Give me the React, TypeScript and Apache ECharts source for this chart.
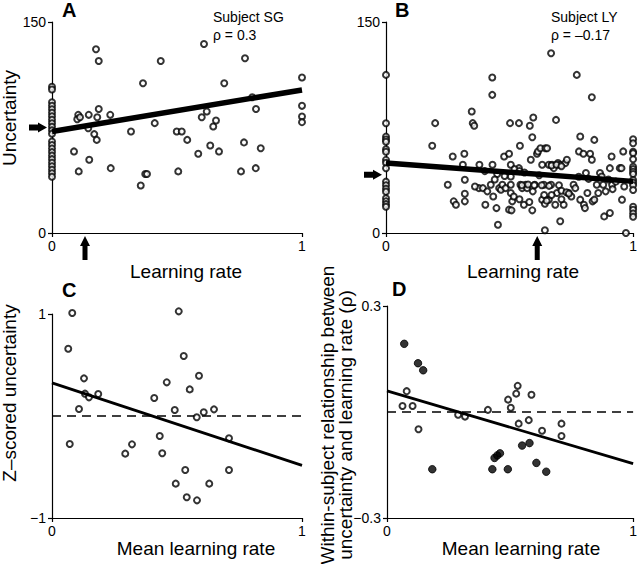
import React, { useEffect, useRef } from "react";
import * as echarts from "echarts";

const FONT = "'Liberation Sans', Arial, Helvetica, sans-serif";

// Panel A: Subject SG (learning rate, uncertainty)
const pointsA: number[][] = [
  [0, 104], [0, 102], [0, 93], [0, 90.5], [0, 88], [0, 85.5], [0, 83], [0, 80.5], [0, 78], [0, 75.5],
  [0, 73], [0, 70.5], [0, 65], [0, 62.5], [0, 60], [0, 57.5], [0, 55], [0, 52.5], [0, 50], [0, 47.5],
  [0, 45], [0, 42.5], [0, 40],
  [0.176, 130.6], [0.187, 122.3], [0.105, 84.0], [0.101, 80.9], [0.112, 82.3], [0.147, 84.0],
  [0.187, 88.2], [0.181, 82.3], [0.145, 74.5], [0.169, 70.3], [0.179, 66.2], [0.088, 58.0],
  [0.149, 52.1], [0.107, 43.8], [0.233, 84.0], [0.235, 46.1], [0.316, 72.2], [0.364, 106.5],
  [0.355, 33.8], [0.373, 41.9], [0.38, 41.9], [0.411, 78.1], [0.435, 122.3], [0.499, 72.2],
  [0.519, 72.2], [0.541, 66.2], [0.505, 43.8], [0.585, 56.3], [0.608, 134.4], [0.599, 82.3],
  [0.619, 86.4], [0.633, 62.2], [0.645, 75.7], [0.656, 80.0], [0.668, 58.0], [0.689, 106.5],
  [0.772, 124.2], [0.768, 64.4], [0.756, 43.8], [0.801, 96.5], [0.816, 88.2], [0.835, 60.3],
  [0.815, 46.1], [1, 110.5], [1, 90.4], [1, 82.8], [1, 78.8],
];
const fitA: number[][] = [[0, 72.2], [1, 101.7]];
const arrowA = { uncertainty: 75, rate: 0.132 };

// Panel B: Subject LY
const pointsB: number[][] = [
  [0, 112.4], [0, 78], [0, 68.5], [0, 66.5], [0, 64.9], [0, 59.5], [0, 57.8], [0, 52], [0, 50], [0, 46],
  [0, 36.5], [0, 34], [0, 31.5], [0, 29.4], [0, 24.7], [0, 22.5], [0, 20.5], [0, 18.7],
  [0.187, 62.0], [0.199, 78.1], [0.25, 34.3], [0.27, 54.4], [0.274, 22.5], [0.283, 20.1], [0.317, 56.3],
  [0.311, 48.5], [0.319, 37.9], [0.319, 27.9], [0.319, 22.5], [0.347, 86.4], [0.351, 78.1], [0.357, 76.2],
  [0.378, 48.5], [0.376, 31.9], [0.392, 31.9], [0.402, 20.1], [0.41, 29.6], [0.424, 34.3], [0.43, 110.5],
  [0.43, 98.2], [0.431, 48.5], [0.434, 26.0], [0.447, 17.7], [0.453, 5.9], [0.458, 31.9], [0.465, 30.8],
  [0.471, 34.3], [0.478, 54.4], [0.484, 31.9], [0.498, 56.3], [0.502, 78.1], [0.505, 48.5], [0.505, 40.2],
  [0.505, 34.3], [0.505, 28.4], [0.511, 22.5], [0.517, 26.0], [0.498, 16.6], [0.508, 16.1], [0.538, 78.1],
  [0.542, 62.0], [0.538, 46.1], [0.544, 34.3], [0.551, 31.9], [0.558, 20.1], [0.565, 34.3], [0.571, 31.9],
  [0.582, 76.2], [0.592, 68.1], [0.596, 82.1], [0.586, 52.1], [0.592, 16.1], [0.594, 29.6], [0.602, 34.3],
  [0.611, 56.3], [0.615, 58.0], [0.625, 60.3], [0.632, 48.5], [0.632, 23.7], [0.639, 34.3], [0.643, 20.8],
  [0.645, 60.3], [0.652, 60.3], [0.659, 48.5], [0.659, 23.7], [0.668, 127.8], [0.668, 34.3], [0.672, 48.5],
  [0.679, 46.1], [0.688, 80.4], [0.685, 20.1], [0.692, 28.4], [0.696, 49.7], [0.704, 48.5], [0.705, 8.3],
  [0.719, 20.1], [0.726, 49.7], [0.732, 52.1], [0.739, 28.4], [0.75, 26.0], [0.759, 34.3], [0.766, 31.9],
  [0.772, 112.4], [0.786, 68.6], [0.781, 58.0], [0.786, 23.7], [0.799, 56.3], [0.801, 20.1], [0.805, 17.7],
  [0.809, 42.6], [0.815, 28.4], [0.826, 56.3], [0.833, 96.5], [0.833, 52.1], [0.836, 22.5], [0.843, 66.2],
  [0.843, 23.7], [0.853, 34.3], [0.859, 28.4], [0.866, 42.6], [0.873, 40.2], [0.879, 34.3], [0.883, 11.8],
  [0.889, 29.6], [0.906, 14.2], [0.913, 54.4], [0.915, 34.3], [0.917, 31.2], [0.906, 46.1], [0.946, 46.1],
  [0.953, 46.1], [0.955, 23.7], [0.96, 58.0], [0.964, 33.1], [0.971, 0], [0.643, 1.9],
  [0.52, 45.4], [0.54, 44.0], [0.56, 43.0], [0.55, 34.0], [0.575, 34.5], [0.6, 34.0], [0.63, 34.0],
  [0.66, 33.5], [0.7, 34.0], [0.54, 24.0], [0.58, 22.0], [0.64, 27.0], [0.67, 27.0], [0.65, 23.0],
  [0.71, 30.0], [0.73, 29.0], [0.74, 28.0], [0.71, 24.0], [0.67, 48.0], [0.69, 48.5], [0.71, 47.5],
  [0.45, 42.0], [0.48, 40.5], [0.62, 41.0], [0.78, 40.0], [0.82, 38.5], [0.9, 38.0], [0.93, 36.5],
  [0.36, 33.0], [0.4, 44.0], [0.44, 38.0],
  [1, 66.6], [1, 63.8], [1, 57.8], [1, 56.7], [1, 52.4], [1, 47.1], [1, 45.4], [1, 43.6], [1, 41.9],
  [1, 37.7], [1, 35.8], [1, 33.9], [1, 30.6], [1, 18.7], [1, 16.5], [1, 13.9], [1, 11.6],
];
const fitB: number[][] = [[0, 49.7], [1, 36.7]];
const arrowB = { uncertainty: 41.4, rate: 0.612 };

// Panel C: mean learning rate vs z-scored uncertainty
const pointsC: number[][] = [
  [0.065, 0.66], [0.081, 1.01], [0.071, -0.275], [0.108, 0.069], [0.128, 0.369], [0.132, 0.219],
  [0.148, 0.183], [0.185, 0.216], [0.293, -0.369], [0.32, -0.278], [0.409, 0.176], [0.431, -0.196],
  [0.441, -0.366], [0.459, 0.33], [0.491, 0.059], [0.495, -0.663], [0.507, 1.026], [0.527, 0.588],
  [0.533, -0.529], [0.539, -0.797], [0.551, 0.261], [0.579, -0.013], [0.58, -0.827], [0.588, 0.395],
  [0.607, 0.036], [0.629, -0.663], [0.648, 0.065], [0.708, -0.219], [0.708, -0.529],
];
const fitC: number[][] = [[0, 0.324], [1, -0.484]];
const zeroLine: number[][] = [[0, 0], [1, 0]];

// Panel D: mean learning rate vs within-subject rho
const pointsDFilled: number[][] = [
  [0.07, 0.193], [0.126, 0.138], [0.147, 0.118], [0.184, -0.162], [0.428, -0.162], [0.437, -0.13],
  [0.448, -0.123], [0.459, -0.117], [0.491, -0.162], [0.549, -0.095], [0.579, -0.088], [0.607, -0.144],
  [0.647, -0.169],
];
const pointsDOpen: number[][] = [
  [0.063, 0.017], [0.08, 0.059], [0.104, 0.017], [0.128, -0.049], [0.289, -0.008], [0.317, -0.013],
  [0.41, 0.006], [0.492, 0.035], [0.503, 0.012], [0.525, 0.052], [0.531, 0.074], [0.535, -0.033],
  [0.576, -0.023], [0.587, 0.049], [0.63, -0.053], [0.709, -0.033], [0.709, -0.068],
];
const fitD: number[][] = [[0, 0.06], [1, -0.146]];

const ticksXY = { x: [0, 1], yAB: [0, 150], yC: [-1, 1], yD: [-0.3, 0.3] };

const fmt = (v: number) => (v < 0 ? "\u2212" + String(Math.abs(v)) : String(v));

function axisBase(gridIndex: number, min: number, max: number, ticks: number[]) {
  return {
    gridIndex,
    type: "value",
    min,
    max,
    axisLine: { show: true, onZero: false, lineStyle: { color: "#000", width: 1.2 } },
    axisTick: { show: true, length: 4, customValues: ticks, lineStyle: { color: "#000", width: 1.2 } },
    axisLabel: {
      show: true,
      customValues: ticks,
      color: "#000",
      fontSize: 14,
      fontFamily: FONT,
      margin: 6,
      formatter: fmt,
    },
    splitLine: { show: false },
  };
}

const openStyle = { color: "#fff", borderColor: "#000", borderWidth: 2 };

function scatter(idx: number, data: number[][], filled = false) {
  return {
    type: "scatter",
    xAxisIndex: idx,
    yAxisIndex: idx,
    data,
    symbol: "circle",
    symbolSize: filled ? 7.5 : 6,
    clip: false,
    itemStyle: filled ? { color: "#000", borderColor: "#000", borderWidth: 1 } : openStyle,
    z: 2,
  };
}

function line(idx: number, data: number[][], width: number, dashed = false) {
  return {
    type: "line",
    xAxisIndex: idx,
    yAxisIndex: idx,
    data,
    showSymbol: false,
    symbol: "none",
    lineStyle: { color: "#000", width, type: dashed ? [9, 6] : "solid" },
    z: dashed ? 1 : 3,
    silent: true,
  };
}

export default function App() {
  const ref = useRef<HTMLDivElement>(null);
  useEffect(() => {
    if (!ref.current) return;
    const chart = echarts.init(ref.current, undefined, { renderer: "svg" });
    chart.setOption({
      animation: false,
      backgroundColor: "#fff",
      grid: [
        { left: 52, top: 22, width: 250, height: 211 },
        { left: 386, top: 22, width: 249, height: 211 },
        { left: 52, top: 314, width: 250, height: 204 },
        { left: 387, top: 306, width: 249, height: 212 },
      ],
      xAxis: [
        axisBase(0, 0, 1, ticksXY.x),
        axisBase(1, 0, 1, ticksXY.x),
        axisBase(2, 0, 1, ticksXY.x),
        axisBase(3, 0, 1, ticksXY.x),
      ],
      yAxis: [
        axisBase(0, 0, 150, ticksXY.yAB),
        axisBase(1, 0, 150, ticksXY.yAB),
        axisBase(2, -1, 1, ticksXY.yC),
        axisBase(3, -0.3, 0.3, ticksXY.yD),
      ],
      series: [
        scatter(0, pointsA),
        line(0, fitA, 5.5),
        scatter(1, pointsB),
        line(1, fitB, 5.5),
        line(2, zeroLine, 1.5, true),
        scatter(2, pointsC),
        line(2, fitC, 2.8),
        line(3, zeroLine, 1.5, true),
        scatter(3, pointsDOpen),
        scatter(3, pointsDFilled, true),
        line(3, fitD, 2.8),
      ],
    });

    const rightArrow = (tx: number, ty: number) => ({
      type: "polygon",
      shape: {
        points: [
          [tx, ty], [tx - 9, ty - 5], [tx - 9, ty - 3], [tx - 18, ty - 3],
          [tx - 18, ty + 3], [tx - 9, ty + 3], [tx - 9, ty + 5],
        ],
      },
      style: { fill: "#000" },
    });
    const upArrow = (tx: number, ty: number) => ({
      type: "polygon",
      shape: {
        points: [
          [tx, ty], [tx + 5, ty + 10], [tx + 2.5, ty + 10], [tx + 2.5, ty + 24],
          [tx - 2.5, ty + 24], [tx - 2.5, ty + 10], [tx - 5, ty + 10],
        ],
      },
      style: { fill: "#000" },
    });

    const pA1 = chart.convertToPixel({ gridIndex: 0 }, [0, arrowA.uncertainty]) as number[];
    const pA2 = chart.convertToPixel({ gridIndex: 0 }, [arrowA.rate, 0]) as number[];
    const pB1 = chart.convertToPixel({ gridIndex: 1 }, [0, arrowB.uncertainty]) as number[];
    const pB2 = chart.convertToPixel({ gridIndex: 1 }, [arrowB.rate, 0]) as number[];

    const txt = (text: string, x: number, y: number, size: number, opts: any = {}) => ({
      type: "text",
      x,
      y,
      rotation: opts.rotation || 0,
      style: {
        text,
        fill: "#000",
        font: `${opts.bold ? "bold " : ""}${size}px ${FONT}`,
        textAlign: opts.align || "center",
        textVerticalAlign: "middle",
      },
    });

    chart.setOption({
      graphic: [
        rightArrow(pA1[0] - 5, pA1[1]),
        upArrow(pA2[0], pA2[1] + 3),
        rightArrow(pB1[0] - 4, pB1[1]),
        upArrow(pB2[0], pB2[1] + 3),
        txt("A", 62, 10, 20, { bold: true, align: "left" }),
        txt("B", 395, 10, 20, { bold: true, align: "left" }),
        txt("C", 62, 290, 20, { bold: true, align: "left" }),
        txt("D", 392, 289, 20, { bold: true, align: "left" }),
        txt("Subject SG", 213, 17, 14, { align: "left" }),
        txt("\u03c1 = 0.3", 213, 35, 14, { align: "left" }),
        txt("Subject LY", 551, 17, 14, { align: "left" }),
        txt("\u03c1 = \u20130.17", 551, 35, 14, { align: "left" }),
        txt("Uncertainty", 9, 118, 19, { rotation: Math.PI / 2 }),
        txt("Learning rate", 186, 271, 19),
        txt("Learning rate", 523, 271, 19),
        txt("Z\u2013scored uncertainty", 9, 393, 19, { rotation: Math.PI / 2 }),
        txt("Mean learning rate", 196, 548, 19),
        txt("Mean learning rate", 521, 548, 19),
        txt("Within-subject relationship between", 327, 415, 19, { rotation: Math.PI / 2 }),
        txt("uncertainty and learning rate (\u03c1)", 345, 425, 19, { rotation: Math.PI / 2 }),
      ],
    });

    return () => chart.dispose();
  }, []);
  return (
    <div
      ref={ref}
      style={{ position: "fixed", left: 0, top: 0, width: 640, height: 564, background: "#fff" }}
    />
  );
}
